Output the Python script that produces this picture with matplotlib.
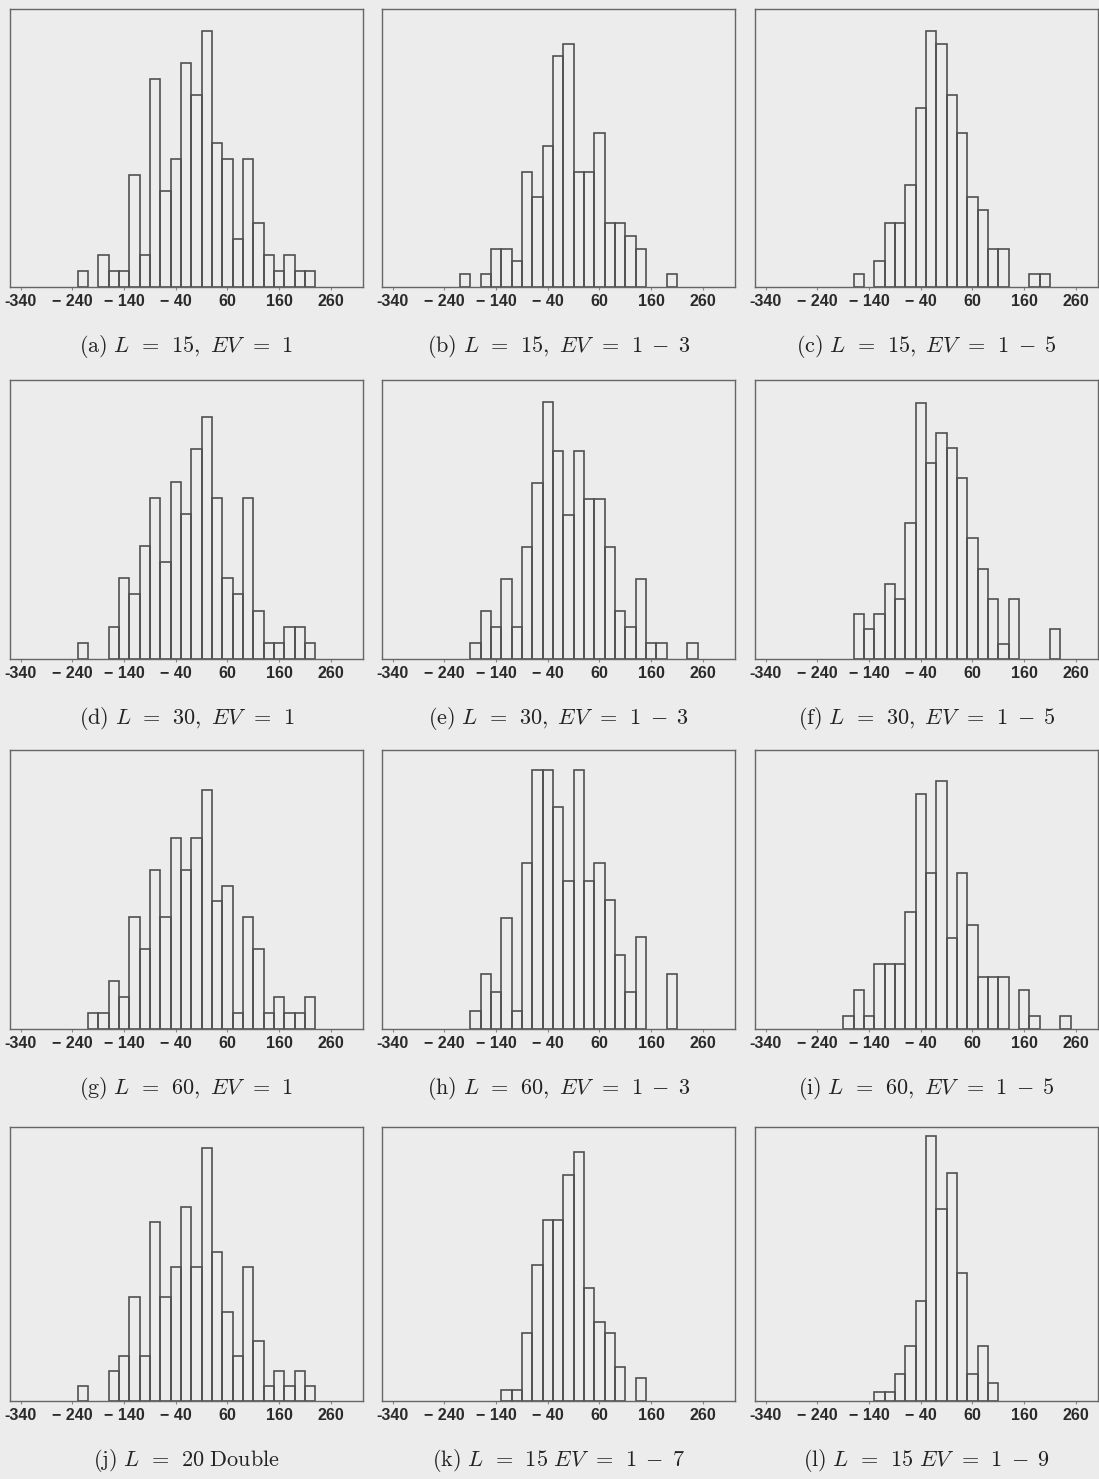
import matplotlib.pyplot as plt
import numpy as np

plt.rcParams['mathtext.fontset'] = 'cm'

# bin centres shared by every histogram (bin width 20)
bins = [-220, -200, -180, -160, -140, -120, -100, -80, -60, -40, -20, 0,
        20, 40, 60, 80, 100, 120, 140, 160, 180, 200, 220, 240]

counts_a = [1, 0, 2, 1, 1, 7, 2, 13, 6, 8, 14, 12, 16, 9, 8, 3, 8, 4, 2, 1, 2, 1, 1, 0]
counts_b = [0, 1, 0, 1, 3, 3, 2, 9, 7, 11, 18, 19, 9, 9, 12, 5, 5, 4, 3, 0, 0, 1, 0, 0]
counts_c = [0, 0, 0, 1, 0, 2, 5, 5, 8, 14, 20, 19, 15, 12, 7, 6, 3, 3, 0, 0, 1, 1, 0, 0]
counts_d = [1, 0, 0, 2, 5, 4, 7, 10, 6, 11, 9, 13, 15, 10, 5, 4, 10, 3, 1, 1, 2, 2, 1, 0]
counts_e = [0, 0, 1, 3, 2, 5, 2, 7, 11, 16, 13, 9, 13, 10, 10, 7, 3, 2, 5, 1, 1, 0, 0, 1]
counts_f = [0, 0, 0, 3, 2, 3, 5, 4, 9, 17, 13, 15, 14, 12, 8, 6, 4, 1, 4, 0, 0, 0, 2, 0]
counts_g = [0, 1, 1, 3, 2, 7, 5, 10, 7, 12, 10, 12, 15, 8, 9, 1, 7, 5, 1, 2, 1, 1, 2, 0]
counts_h = [0, 0, 1, 3, 2, 6, 1, 9, 14, 14, 12, 8, 14, 8, 9, 7, 4, 2, 5, 0, 0, 3, 0, 0]
counts_i = [0, 0, 1, 3, 1, 5, 5, 5, 9, 18, 12, 19, 7, 12, 8, 4, 4, 4, 0, 3, 1, 0, 0, 1]
counts_j = [1, 0, 0, 2, 3, 7, 3, 12, 7, 9, 13, 9, 17, 10, 6, 3, 9, 4, 1, 2, 1, 2, 1, 0]
counts_k = [0, 0, 0, 0, 0, 1, 1, 6, 12, 16, 16, 20, 22, 10, 7, 6, 3, 0, 2, 0, 0, 0, 0, 0]
counts_l = [0, 0, 0, 0, 0, 1, 1, 3, 6, 11, 29, 21, 25, 14, 3, 6, 2, 0, 0, 0, 0, 0, 0, 0]

# TeX-like spacing around relations and binary minus
captions = [
    r'$\mathrm{(a)}\ L\;\,=\;\,15,\ EV\;\,=\;\,1$',
    r'$\mathrm{(b)}\ L\;\,=\;\,15,\ EV\;\,=\;\,1\;-\;3$',
    r'$\mathrm{(c)}\ L\;\,=\;\,15,\ EV\;\,=\;\,1\;-\;5$',
    r'$\mathrm{(d)}\ L\;\,=\;\,30,\ EV\;\,=\;\,1$',
    r'$\mathrm{(e)}\ L\;\,=\;\,30,\ EV\;\,=\;\,1\;-\;3$',
    r'$\mathrm{(f)}\ L\;\,=\;\,30,\ EV\;\,=\;\,1\;-\;5$',
    r'$\mathrm{(g)}\ L\;\,=\;\,60,\ EV\;\,=\;\,1$',
    r'$\mathrm{(h)}\ L\;\,=\;\,60,\ EV\;\,=\;\,1\;-\;3$',
    r'$\mathrm{(i)}\ L\;\,=\;\,60,\ EV\;\,=\;\,1\;-\;5$',
    r'$\mathrm{(j)}\ L\;\,=\;\,20\ \mathrm{Double}$',
    r'$\mathrm{(k)}\ L\;\,=\;\,15\ EV\;\,=\;\,1\;-\;7$',
    r'$\mathrm{(l)}\ L\;\,=\;\,15\ EV\;\,=\;\,1\;-\;9$',
]

all_counts = [counts_a, counts_b, counts_c, counts_d, counts_e, counts_f,
              counts_g, counts_h, counts_i, counts_j, counts_k, counts_l]
y_top = [17.4, 21.7, 21.7, 17.3, 17.4, 18.5, 17.5, 15.1, 21.4, 18.4, 24.2, 30.0]

tick_pos = [-340, -240, -140, -40, 60, 160, 260]
tick_lab = ['-340', '\u2212 240', '\u2212 140', '\u2212 40', '60', '160', '260']

W, H = 1099, 1479
bg = '#ececec'
fig = plt.figure(figsize=(W / 100, H / 100), dpi=100, facecolor=bg)

col_left = [10, 382, 755]
col_width = [353, 353, 343]
row_top = [9, 380, 750, 1127]
row_bot = [287, 659, 1029, 1401]
px_per_unit = 0.5165
x0 = -361

centres = np.array(bins)
for n, counts in enumerate(all_counts):
    r, c = divmod(n, 3)
    left, width = col_left[c], col_width[c]
    top, bot = row_top[r], row_bot[r]
    ax = fig.add_axes([left / W, 1 - bot / H, width / W, (bot - top) / H])
    ax.set_facecolor(bg)
    h = np.array(counts)
    keep = h > 0
    ax.bar(centres[keep], h[keep], width=20, fill=False,
           edgecolor='#505050', linewidth=1.2)
    ax.set_xlim(x0, x0 + width / px_per_unit)
    ax.set_ylim(0, y_top[n])
    ax.set_yticks([])
    ax.set_xticks(tick_pos)
    ax.set_xticklabels(tick_lab, fontsize=11.5, fontweight='bold',
                       family='Liberation Sans', color='#2a2a2a')
    ax.tick_params(axis='x', length=2, width=0.8, color='#888888', pad=3)
    for s in ax.spines.values():
        s.set_color('#666666')
        s.set_linewidth(1.0)
    fig.text((left + width / 2) / W, 1 - (bot + 60) / H, captions[n],
             ha='center', va='center', fontsize=16, color='#222222')

fig.savefig('out.png', dpi=100, facecolor=bg)
